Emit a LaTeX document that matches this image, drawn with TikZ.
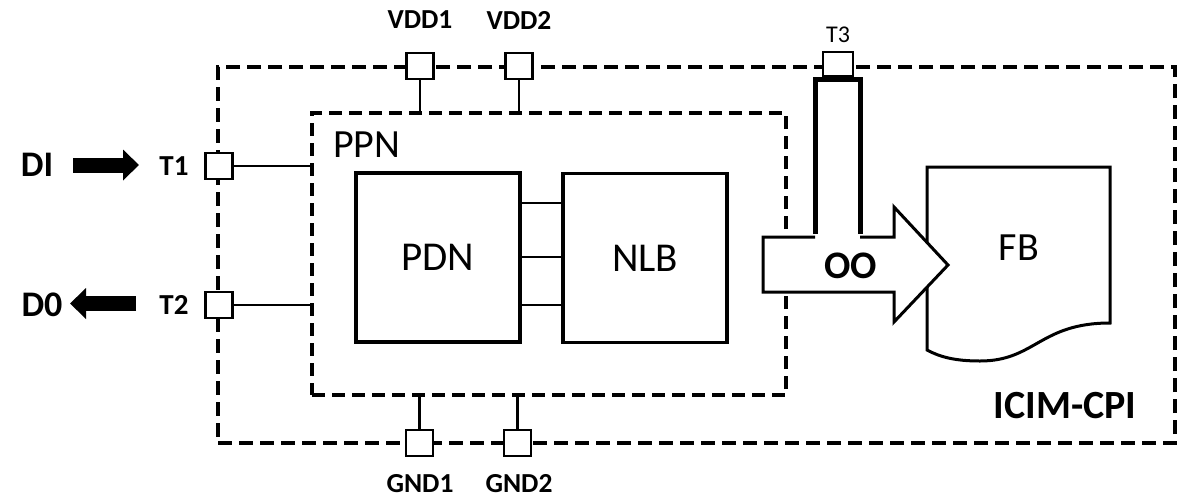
\documentclass[tikz,border=0pt]{standalone}
\usepackage{fontspec}
\setmainfont{Carlito}
\usetikzlibrary{arrows.meta,calc}
\tikzset{
  outerbox/.style={draw, line width=4pt, dash pattern=on 14pt off 7pt, minimum width=957pt, minimum height=376pt, inner sep=0pt},
  innerbox/.style={draw, line width=3.5pt, dash pattern=on 13pt off 7pt, minimum width=474pt, minimum height=282pt, inner sep=0pt},
  blockbox/.style={draw, line width=3.5pt, minimum width=164pt, minimum height=169pt, inner sep=0pt, font=\fontsize{41}{44}\selectfont},
  term/.style={draw, line width=2.5pt, fill=white, minimum width=27pt, minimum height=26pt, inner sep=0pt},
  wire/.style={line width=2.5pt},
  lbl/.style={inner sep=0pt, font=\bfseries\fontsize{27.5}{30}\selectfont},
  tlbl/.style={inner sep=0pt, font=\bfseries\fontsize{29}{31}\selectfont},
  biglbl/.style={inner sep=0pt, font=\fontsize{40}{43}\selectfont},
  sigarrow/.style={line width=15pt, -{Triangle[length=16pt,width=30pt]}},
  fat/.style={line width=3pt, line join=miter}
}
\begin{document}
\begin{tikzpicture}[x=1pt,y=-1pt]
\useasboundingbox (0,0) rectangle (1186,499);
% containers
\node[outerbox] (outer) at (696.5,255) {};
\node[innerbox] (ppn) at (549,254) {};
\node[biglbl, anchor=west] (ppnl) at (333,145) {PPN};
\node[font=\bfseries\fontsize{40}{43}\selectfont, inner sep=0pt] (icim) at (1065,406) {ICIM-CPI};
% blocks
\node[blockbox] (pdn) at (438,257.5) {PDN};
\node[blockbox] (nlb) at (645,258) {NLB};
\foreach \yy in {203,257,305} {
  \draw[wire] (pdn.east |- 0,\yy) -- (nlb.west |- 0,\yy);
}
% terminals
\node[term] (t1) at (219,166) {};
\node[term] (t2) at (219,305) {};
\node[term] (vdd1) at (420,66) {};
\node[term] (vdd2) at (519,66) {};
\node[term] (gnd1) at (419.5,443) {};
\node[term] (gnd2) at (517.5,443) {};
\draw[wire] (t1.east) -- (t1 -| ppn.west);
\draw[wire] (t2.east) -- (t2 -| ppn.west);
\draw[wire] (vdd1.south) -- (vdd1 |- ppn.north);
\draw[wire] (vdd2.south) -- (vdd2 |- ppn.north);
\draw[wire] (gnd1.north) -- (gnd1 |- ppn.south);
\draw[wire] (gnd2.north) -- (gnd2 |- ppn.south);
% terminal labels
\node[tlbl] (t1l) at (174,166) {T1};
\node[tlbl] (t2l) at (174,305) {T2};
\node[lbl] (vdd1l) at (420,20) {VDD1};
\node[lbl] (vdd2l) at (519,20) {VDD2};
\node[lbl] (gnd1l) at (420,484) {GND1};
\node[lbl] (gnd2l) at (519,484) {GND2};
\node[inner sep=0pt, font=\fontsize{24}{26}\selectfont] (t3l) at (838,35) {T3};
% DI / D0
\node[font=\bfseries\fontsize{36}{38}\selectfont, inner sep=0pt] (di) at (37,165) {DI};
\node[font=\bfseries\fontsize{36}{38}\selectfont, inner sep=0pt] (d0) at (42,305) {D0};
\coordinate (diA) at (73,165);
\coordinate (diB) at (139,165);
\coordinate (d0A) at (136,303.5);
\coordinate (d0B) at (70,303.5);
\draw[sigarrow] (diA) -- (diB);
\draw[sigarrow] (d0A) -- (d0B);
% FB document
\draw[fat, fill=white] (927,350) -- (927,167) -- (1110,167) -- (1110,323)
  .. controls (1040,323) and (1035,361) .. (980,361)
  .. controls (955,361) and (940,357) .. (927,350) -- cycle;
\node[biglbl] (fb) at (1019,248) {FB};
% OO arrow
\fill[white] (763,237) -- (894,237) -- (894,207) -- (948,265) -- (894,322) -- (894,292) -- (763,292) -- cycle;
\draw[fat] (815,237) -- (763,237) -- (763,292) -- (894,292) -- (894,322) -- (948,265) -- (894,207) -- (894,237) -- (860,237);
\draw[line width=5pt] (815.5,234) -- (815.5,79.5) -- (860.5,79.5) -- (860.5,234);
\node[term, minimum width=30pt, minimum height=24pt] (t3) at (838,64) {};
\node[font=\bfseries\fontsize{39}{41}\selectfont, inner sep=0pt] (oo) at (851,266) {OO};
\end{tikzpicture}
\end{document}
